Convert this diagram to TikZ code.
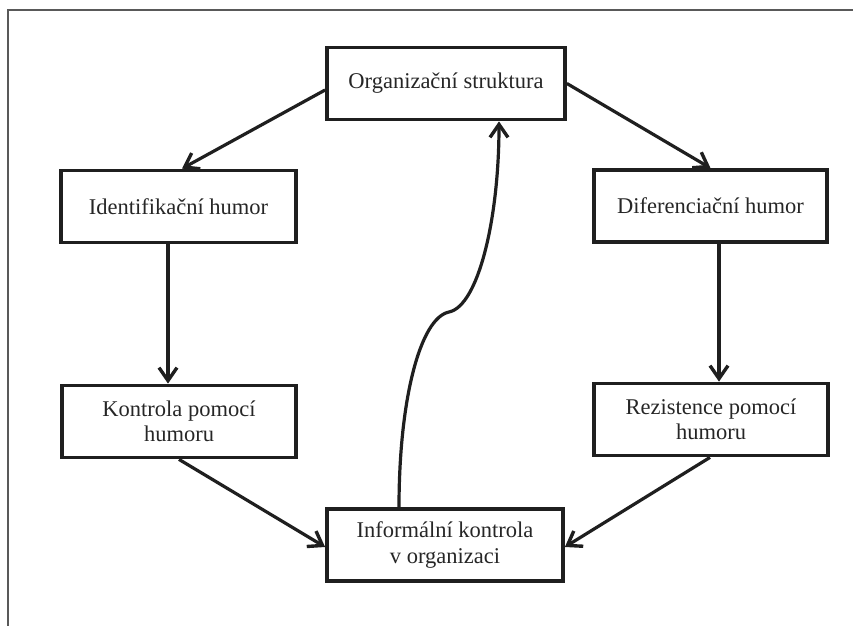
\documentclass[tikz,border=0pt]{standalone}
\usepackage{fontspec}
\setmainfont{Liberation Serif}
\usetikzlibrary{arrows.meta}
\begin{document}
\begin{tikzpicture}[x=1pt,y=-1pt,
  box/.style={draw=black!88,line width=3.8pt,minimum width=235pt,minimum height=72pt,
    align=center,font=\fontsize{22.5}{25.5}\selectfont,text=black!85,inner sep=0pt},
  arr/.style={draw=black!88,line width=3.2pt,-{Straight Barb[length=13pt,width=18pt,line width=3.4pt]}},
  frame/.style={draw=black!65,line width=1.3pt}]
\useasboundingbox (0,0) rectangle (853,626);
\coordinate (fa) at (853,10);
\coordinate (fb) at (8,10);
\coordinate (fc) at (8,626);
\draw[frame] (fa) -- (fb) -- (fc);
\node[box,minimum width=238pt] (top) at (446,83.5) {Organizační struktura};
\node[box] (ident) at (178.5,206.5) {Identifikační humor};
\node[box,minimum width=233pt] (difer) at (710.5,206) {Diferenciační humor};
\node[box,minimum width=234pt] (kontr) at (179,421.5) {Kontrola pomocí\\humoru};
\node[box,minimum width=234pt] (rezist) at (711,419.5) {Rezistence pomocí\\humoru};
\node[box,minimum width=236pt] (bottom) at (445,545) {Informální kontrola\\v organizaci};
\draw[arr] ([yshift=-6.5pt]top.west) -- ([xshift=3.5pt]ident.north);
\draw[arr] (top.east) -- (difer.north);
\draw[arr] ([xshift=-10.5pt]ident.south) -- ([xshift=-10.5pt]ident.south |- kontr.north);
\draw[arr] ([xshift=8.5pt]difer.south) -- ([xshift=8.5pt]difer.south |- rezist.north);
\draw[arr] (kontr.south) -- ([yshift=-2pt]bottom.west);
\draw[arr] ([xshift=-1pt]rezist.south) -- ([yshift=-2pt]bottom.east);
\draw[arr] ([xshift=-46pt]bottom.north) .. controls (399,400) and (420,318) .. (449,312)
  .. controls (478,306) and (499,220) .. ([xshift=53pt]top.south);
\end{tikzpicture}
\end{document}
